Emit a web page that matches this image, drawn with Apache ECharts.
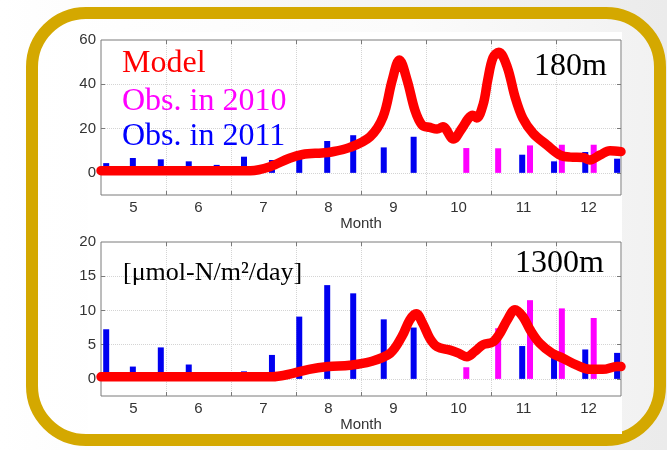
<!DOCTYPE html>
<html>
<head>
<meta charset="utf-8">
<script src="https://cdn.jsdelivr.net/npm/echarts@6/dist/echarts.min.js"></script>
<style>
html,body{margin:0;padding:0;background:#fff;}
#c{width:667px;height:450px;}
</style>
</head>
<body>
<div id="c"></div>
<script>
// ---- data ----
const monthTicks = [5.5, 6.5, 7.5, 8.5, 9.5, 10.5, 11.5];
const monthLabels = [5, 6, 7, 8, 9, 10, 11, 12];
const yTicks180 = [0, 20, 40];
const yLabels180 = [0, 20, 40, 60];
const yTicks1300 = [0, 5, 10, 15];
const yLabels1300 = [0, 5, 10, 15, 20];

const obsMonths2011 = [4.58, 4.99, 5.42, 5.85, 6.28, 6.70, 7.13, 7.55, 7.98, 8.38, 8.85, 9.31, 10.98, 11.47, 11.95, 12.44];
const obsMonths2010 = [10.12, 10.61, 11.10, 11.59, 12.08];

const obs2011_180 = [4.4, 6.7, 6.1, 5.2, 3.6, 7.3, 5.8, 7.8, 14.4, 17.0, 11.5, 16.3, 8.2, 5.2, 9.4, 6.4];
const obs2010_180 = [11.2, 11.1, 12.4, 12.7, 12.7];
const obs2011_1300 = [7.25, 1.8, 4.6, 2.1, 0.8, 1.1, 3.5, 9.1, 13.7, 12.5, 8.7, 7.5, 4.8, 3.75, 4.3, 3.8];
const obs2010_1300 = [1.7, 7.4, 11.5, 10.3, 8.9];

const model180Months = [4.5, 5.0, 5.5, 6.0, 6.5, 6.8, 7.1, 7.4, 7.6, 7.9, 8.02, 8.33, 8.64, 8.84, 8.98, 9.09, 9.21, 9.33, 9.44, 9.56, 9.67, 9.76, 9.92, 10.05, 10.15, 10.22, 10.28, 10.38, 10.45, 10.53, 10.62, 10.75, 10.87, 10.99, 11.15, 11.36, 11.56, 11.72, 11.92, 12.02, 12.18, 12.33, 12.5];
const model180 = [1, 1, 1, 1, 1, 1.0, 2.8, 6.6, 8.3, 9.0, 9.3, 11.5, 16.3, 25.3, 41.8, 51.0, 41.8, 28.3, 21.6, 20.5, 19.8, 20.8, 15.3, 20.0, 24.5, 26.0, 24.8, 31.0, 42.0, 52.0, 54.5, 47.8, 34.3, 24.6, 17.8, 12.6, 8.1, 7.1, 6.9, 5.8, 8.1, 10.0, 9.6];

const model1300Months = [4.5, 5.0, 6.0, 6.8, 7.1, 7.3, 7.45, 7.7, 8.0, 8.33, 8.64, 8.95, 9.13, 9.25, 9.35, 9.45, 9.56, 9.67, 9.87, 9.99, 10.13, 10.25, 10.38, 10.53, 10.64, 10.75, 10.87, 10.99, 11.1, 11.25, 11.44, 11.61, 11.82, 12.02, 12.22, 12.44, 12.5];
const model1300 = [0.3, 0.3, 0.3, 0.3, 0.3, 0.5, 0.8, 1.4, 1.8, 2.0, 2.5, 3.75, 6.2, 8.6, 9.5, 8.1, 5.9, 4.7, 4.2, 3.8, 3.25, 4.0, 5.0, 5.4, 6.7, 8.6, 10.1, 9.1, 7.2, 5.2, 3.75, 3.0, 2.0, 1.4, 1.4, 1.8, 1.8];

// ---- helpers ----
const zip = (xs, ys) => xs.map((x, i) => [x, ys[i]]);
const SANS = 'Liberation Sans, Arial, sans-serif';
const SERIF = 'Liberation Serif, Times New Roman, serif';
const AX = '#7a7a7a';

function xAx(gi, pos, main) {
  return {
    type: 'value', gridIndex: gi, position: pos, min: 4.5, max: 12.5, interval: 0.5,
    axisLine: { show: false, onZero: false },
    axisTick: { show: true, inside: true, length: 4, customValues: monthTicks, lineStyle: { color: AX } },
    axisLabel: { show: main, customValues: monthLabels, color: '#333', fontSize: 15, margin: 5, fontFamily: SANS },
    splitLine: { show: main, lineStyle: { color: '#d4d4d4', type: 'dotted', width: 1 } },
    name: main ? 'Month' : '', nameLocation: 'middle', nameGap: 21,
    nameTextStyle: { color: '#333', fontSize: 15, fontFamily: SANS }
  };
}
function yAx(gi, pos, main, min, max, interval, ticks, labels) {
  return {
    type: 'value', gridIndex: gi, position: pos, min: min, max: max, interval: interval,
    axisLine: { show: false, onZero: false },
    axisTick: { show: true, inside: true, length: 4, customValues: ticks, lineStyle: { color: AX } },
    axisLabel: { show: main, customValues: labels, color: '#333', fontSize: 15, margin: 5, fontFamily: SANS },
    splitLine: { show: main, lineStyle: { color: '#d4d4d4', type: 'dotted', width: 1 } }
  };
}
function bars(name, xi, yi, xs, ys, color) {
  return {
    name: name, type: 'bar', xAxisIndex: xi, yAxisIndex: yi, barWidth: 6, barGap: '-100%',
    itemStyle: { color: color }, data: zip(xs, ys), z: 2
  };
}
function model(xi, yi, xs, ys) {
  return {
    name: 'Model', type: 'line', xAxisIndex: xi, yAxisIndex: yi, smooth: 0.35, showSymbol: false,
    symbol: 'none', clip: true,
    lineStyle: { color: '#ff0000', width: 9.5, cap: 'round', join: 'round' },
    data: zip(xs, ys), z: 5
  };
}
const BLUE = '#0000f0', MAG = '#ff00ff';

const chart = echarts.init(document.getElementById('c'), null, { renderer: 'canvas' });
chart.setOption({
  animation: false,
  graphic: [
    { type: 'rect', z: -100, shape: { x: 0, y: 0, width: 667, height: 450 },
      style: { fill: new echarts.graphic.LinearGradient(0, 0, 1, 0, [{ offset: 0, color: '#ffffff' }, { offset: 1, color: '#ebebeb' }]) } },
    { type: 'rect', z: -99, shape: { x: 32, y: 13, width: 628, height: 427, r: 54 },
      style: { fill: new echarts.graphic.LinearGradient(0, 0, 1, 0, [{ offset: 0, color: '#ffffff' }, { offset: 0.6, color: '#fbfbfb' }, { offset: 1, color: '#f1f1f1' }]), stroke: '#d4a800', lineWidth: 12 } },
    { type: 'rect', z: -98, shape: { x: 88, y: 32, width: 534, height: 402 }, style: { fill: '#ffffff' } },
    { type: 'text', z: 100, x: 122, y: 64, style: { text: 'Model', fill: '#ff0000', font: '32px ' + SERIF, verticalAlign: 'middle' } },
    { type: 'text', z: 100, x: 122, y: 102, style: { text: 'Obs. in 2010', fill: '#ff00ff', font: '32px ' + SERIF, verticalAlign: 'middle' } },
    { type: 'text', z: 100, x: 122, y: 137, style: { text: 'Obs. in 2011', fill: '#0000ff', font: '32px ' + SERIF, verticalAlign: 'middle' } },
    { type: 'text', z: 100, x: 607, y: 67, style: { text: '180m', fill: '#000', font: '32px ' + SERIF, align: 'right', verticalAlign: 'middle' } },
    { type: 'text', z: 100, x: 604, y: 264, style: { text: '1300m', fill: '#000', font: '32px ' + SERIF, align: 'right', verticalAlign: 'middle' } },
    { type: 'text', z: 100, x: 123, y: 273, style: { text: '[μmol-N/m²/day]', fill: '#000', font: '26px ' + SERIF, verticalAlign: 'middle' } }
  ],
  grid: [
    { left: 101, top: 40, width: 520, height: 155, show: true, borderColor: AX, borderWidth: 1, backgroundColor: '#fff' },
    { left: 101, top: 242, width: 520, height: 154, show: true, borderColor: AX, borderWidth: 1, backgroundColor: '#fff' }
  ],
  xAxis: [xAx(0, 'bottom', true), xAx(0, 'top', false), xAx(1, 'bottom', true), xAx(1, 'top', false)],
  yAxis: [
    yAx(0, 'left', true, -10, 60, 10, yTicks180, yLabels180),
    yAx(0, 'right', false, -10, 60, 10, yTicks180, yLabels180),
    yAx(1, 'left', true, -2.5, 20, 2.5, yTicks1300, yLabels1300),
    yAx(1, 'right', false, -2.5, 20, 2.5, yTicks1300, yLabels1300)
  ],
  series: [
    bars('Obs. in 2011', 0, 0, obsMonths2011, obs2011_180, BLUE),
    bars('Obs. in 2010', 0, 0, obsMonths2010, obs2010_180, MAG),
    model(0, 0, model180Months, model180),
    bars('Obs. in 2011', 2, 2, obsMonths2011, obs2011_1300, BLUE),
    bars('Obs. in 2010', 2, 2, obsMonths2010, obs2010_1300, MAG),
    model(2, 2, model1300Months, model1300)
  ]
});
</script>
</body>
</html>
